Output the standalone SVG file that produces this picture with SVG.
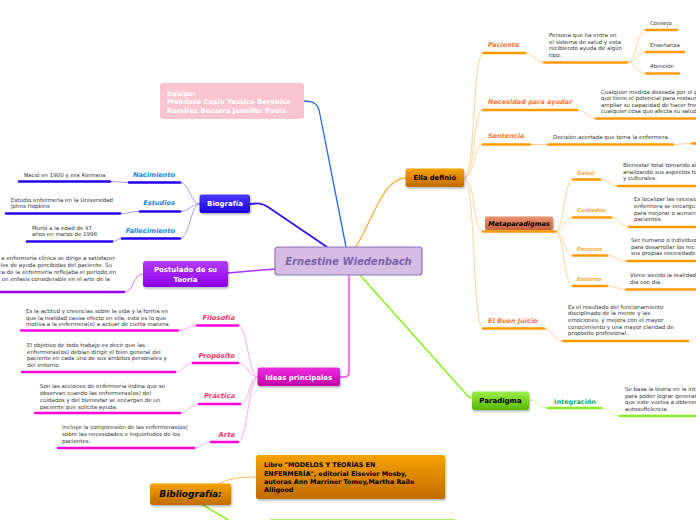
<svg xmlns="http://www.w3.org/2000/svg" width="696" height="520" viewBox="0 0 696 520">
<defs>
<filter id="sh" x="-10%" y="-20%" width="130%" height="160%"><feDropShadow dx="1" dy="1.5" stdDeviation="1" flood-color="#000" flood-opacity="0.3"/></filter>
<linearGradient id="gBio" x1="0" y1="0" x2="0" y2="1"><stop offset="0" stop-color="#4a3cff"/><stop offset="1" stop-color="#1a00dd"/></linearGradient>
<linearGradient id="gPost" x1="0" y1="0" x2="0" y2="1"><stop offset="0" stop-color="#b53cff"/><stop offset="1" stop-color="#8c00e6"/></linearGradient>
<linearGradient id="gIdeas" x1="0" y1="0" x2="0" y2="1"><stop offset="0" stop-color="#ee2ee0"/><stop offset="1" stop-color="#c400aa"/></linearGradient>
<linearGradient id="gOr" x1="0" y1="0" x2="0" y2="1"><stop offset="0" stop-color="#f7a200"/><stop offset="1" stop-color="#c06c00"/></linearGradient>
<linearGradient id="gMeta" x1="0" y1="0" x2="0" y2="1"><stop offset="0" stop-color="#eb9470"/><stop offset="1" stop-color="#c8603a"/></linearGradient>
<linearGradient id="gPar" x1="0" y1="0" x2="0" y2="1"><stop offset="0" stop-color="#9cf04a"/><stop offset="1" stop-color="#55b800"/></linearGradient>
</defs>
<style>
text{font-family:"DejaVu Sans",Verdana,sans-serif}
.t{font-size:5.5px;fill:#333}
.wb{font-weight:bold;fill:#fff}
.kb{font-weight:bold;fill:#000}
.lab{font-weight:bold;font-style:italic}
.c{fill:none;stroke-linecap:round}
.bio{stroke:#9a8cf0;stroke-width:0.9}
.idea{stroke:#ff9cf0;stroke-width:0.9}
.ella{stroke:#ffcd8a;stroke-width:0.9}
.par{stroke:#bdf58c;stroke-width:0.9}
.ub{stroke:#2200ee;stroke-width:2.5}
.ui{stroke:#ff00dd;stroke-width:2.5}
.uo{stroke:#ff9900;stroke-width:2.5}
.ug{stroke:#88ee22;stroke-width:2.5}
</style>
<rect width="696" height="520" fill="#fff"/>

<g id="connectors">
<path class="c" d="M303,101 C314,101 318,104 319.5,112 L346,247" stroke="#2266ff" stroke-width="1.3"/>
<path class="c" d="M250,204 C258,203 262,203 268,207 L327,247" stroke="#3311ee" stroke-width="1.8"/>
<path class="c" d="M228,273 L275,269" stroke="#aa33ff" stroke-width="1.5"/>
<path class="c" d="M349,275 L349,372 Q349,377 344,377 L340,377" stroke="#ff44ee" stroke-width="1.5"/>
<path class="c" d="M356,247 C375,214 384,178 406,178" stroke="#ffaa33" stroke-width="1.3"/>
<path class="c" d="M360,275 L466,394 Q469,398 472,398" stroke="#88ee22" stroke-width="1.5"/>
<path class="c" d="M218,484 C230,478 240,477 256,477" stroke="#ffbb66" stroke-width="1.2"/>
<path class="c" d="M203,505 L228,520" stroke="#88ee22" stroke-width="1.5"/>
<path d="M270,519.5 L455,519.5" stroke="#aaee66" stroke-width="1"/>
<path class="c bio" d="M200,204 C190,204 190,182.5 180,182.5"/>
<path class="c bio" d="M200,204 C190,204 190,211.5 180,211.5"/>
<path class="c bio" d="M200,204 C190,204 190,238.5 180,238.5"/>
<path class="c bio" d="M129,182.5 C120,182.5 120,181.5 110,181.5"/>
<path class="c bio" d="M140,211.5 C130,211.5 130,213.5 120,213.5"/>
<path class="c bio" d="M122,238.5 C117,238.5 117,241.5 112,241.5"/>
<path class="c" d="M124,292 C135,292 132,274 143,274" stroke="#bb66ff" stroke-width="0.9"/>
<path class="c idea" d="M258,377 C248,377 248,325.5 238,325.5"/>
<path class="c idea" d="M258,377 C248,377 248,363 238,363"/>
<path class="c idea" d="M258,377 C248,377 250,404 240,404"/>
<path class="c idea" d="M258,377 C248,377 248,442 238,442"/>
<path class="c idea" d="M197,325.5 C187,325.5 188,330.5 178,330.5"/>
<path class="c idea" d="M193,363 C184,363 184,372 175,372"/>
<path class="c idea" d="M199,404 C190,404 189,413 180,413"/>
<path class="c idea" d="M211,442 C202,442 203,448 194,448"/>
<path class="c ella" d="M464,178 C476,178 472,53 483,53"/>
<path class="c ella" d="M464,178 C476,178 472,110 483,110"/>
<path class="c ella" d="M464,178 C476,178 472,144.5 483,144.5"/>
<path class="c ella" d="M464,178 C476,178 472,231.5 483,231.5"/>
<path class="c ella" d="M464,178 C476,178 472,328.5 483,328.5"/>
<path class="c ella" d="M525,53 C535,53 534,62.5 544,62.5"/>
<path class="c ella" d="M627,62.5 C637,62.5 636,30 646,30"/>
<path class="c ella" d="M627,62.5 C637,62.5 636,52 646,52"/>
<path class="c ella" d="M627,62.5 C637,62.5 636,73.5 646,73.5"/>
<path class="c ella" d="M577,110 C587,110 586,118.5 596,118.5"/>
<path class="c ella" d="M530,144.5 L548,144.5"/>
<path class="c ella" d="M673,144.5 C682,144.5 682,143.5 691,143.5"/>
<path class="c ella" d="M555,231.5 C565,231.5 563,179.5 573,179.5"/>
<path class="c ella" d="M555,231.5 C565,231.5 563,217.5 573,217.5"/>
<path class="c ella" d="M555,231.5 C565,231.5 563,255.5 573,255.5"/>
<path class="c ella" d="M555,231.5 C565,231.5 563,286 573,286"/>
<path class="c ella" d="M600,179.5 C610,179.5 608,186 618,186"/>
<path class="c ella" d="M611,217.5 C620,217.5 620,227 629,227"/>
<path class="c ella" d="M607,255.5 C617,255.5 617,261 627,261"/>
<path class="c ella" d="M607,286 C617,286 616,289.5 626,289.5"/>
<path class="c ella" d="M544,328.5 C554,328.5 553,341 563,341"/>
<path class="c par" d="M529,400 C539,400 538,408 548,408"/>
<path class="c par" d="M601,408 C611,408 610,416 620,416"/>
</g>

<g id="central">
<rect x="275" y="247" width="147" height="28" rx="3" fill="#d6bce3" stroke="#8a72bd" stroke-width="1.2"/>
<text x="348.5" y="264.5" text-anchor="middle" font-size="10" class="lab" fill="#7a62b0">Ernestine Wiedenbach</text>
</g>

<g id="equipo">
<rect x="160" y="83" width="144" height="36" rx="3" fill="#f9c5d1"/>
<text class="wb" font-size="6.8"><tspan x="167" y="95.5">Equipo:</tspan><tspan x="167" y="104.4">Mendoza Cosio Yessica Berenice</tspan><tspan x="167" y="112.5">Ramirez Becerra Jennifer Paola</tspan></text>
</g>

<g id="biografia">
<rect x="199.5" y="194.5" width="50.5" height="18.5" rx="2.5" fill="url(#gBio)" filter="url(#sh)"/>
<text x="225" y="206" text-anchor="middle" font-size="7" class="wb">Biografía</text>
</g>
<g id="nacimiento">
<line class="c ub" x1="129" y1="182.5" x2="180" y2="182.5"/>
<text x="175" y="176.8" text-anchor="end" font-size="6.6" class="lab" fill="#2088e0">Nacimiento</text>
<line class="c ub" x1="19" y1="181.5" x2="110" y2="181.5"/>
<text x="24" y="176.5" class="t">Nació en 1900 y era Alemana</text>
</g>
<g id="estudios">
<line class="c ub" x1="140" y1="211.5" x2="180" y2="211.5"/>
<text x="175" y="205" text-anchor="end" font-size="6.6" class="lab" fill="#2088e0">Estudios</text>
<line class="c ub" x1="6" y1="213.5" x2="120" y2="213.5"/>
<text class="t"><tspan x="11" y="202">Estudio enfermería en la Universidad</tspan><tspan x="11" y="208">Johns Hopkins</tspan></text>
</g>
<g id="fallecimiento">
<line class="c ub" x1="122" y1="238.5" x2="180" y2="238.5"/>
<text x="175" y="233" text-anchor="end" font-size="6.6" class="lab" fill="#2088e0">Fallecimiento</text>
<line class="c ub" x1="27" y1="241.5" x2="112" y2="241.5"/>
<text class="t"><tspan x="32" y="229.7">Murió a la edad de 97</tspan><tspan x="32" y="235.7">años en marzo de 1998</tspan></text>
</g>

<g id="postulado">
<rect x="143" y="261" width="85" height="26" rx="2.5" fill="url(#gPost)" filter="url(#sh)"/>
<text text-anchor="middle" font-size="7" class="wb"><tspan x="185.5" y="272">Postulado de su</tspan><tspan x="185.5" y="282">Teoría</tspan></text>
<line x1="-2" y1="292" x2="124" y2="292" stroke="#9900ee" stroke-width="2.5" stroke-linecap="round"/>
<text class="t" text-anchor="end"><tspan x="115" y="259.5">a enfermería clínica se dirige a satisfacer</tspan><tspan x="112" y="266.8">les de ayuda percibidas del paciente. Su</tspan><tspan x="116" y="274">ca de la enfermería reflejaba el período en</tspan><tspan x="110" y="281">un énfasis considerable en el arte de la</tspan></text>
</g>

<g id="ideas">
<rect x="257.5" y="367.5" width="82.5" height="18.5" rx="2.5" fill="url(#gIdeas)" filter="url(#sh)"/>
<text x="298.7" y="379.5" text-anchor="middle" font-size="7" class="wb">Ideas principales</text>
</g>
<g id="filosofia">
<line class="c ui" x1="197" y1="325.5" x2="238" y2="325.5"/>
<text x="235" y="320" text-anchor="end" font-size="6.8" class="lab" fill="#ff3366">Filosofía</text>
<line class="c ui" x1="21" y1="330.5" x2="178" y2="330.5"/>
<text class="t"><tspan x="26" y="313">Es la actitud y creencias sobre la vida y la forma en</tspan><tspan x="26" y="319.5">que la realidad causa efecto en ella, esto es lo que</tspan><tspan x="26" y="326">motiva a la enfermera(o) a actuar de cierta manera.</tspan></text>
</g>
<g id="proposito">
<line class="c ui" x1="193" y1="363" x2="238" y2="363"/>
<text x="235" y="357.5" text-anchor="end" font-size="6.8" class="lab" fill="#ff3366">Propósito</text>
<line class="c ui" x1="22" y1="372" x2="175" y2="372"/>
<text class="t"><tspan x="27" y="347">El objetivo de todo trabajo es decir que las</tspan><tspan x="27" y="353.7">enfermeras(os) debían dirigir el bien general del</tspan><tspan x="27" y="360.3">paciente en cada uno de sus ámbitos personales y</tspan><tspan x="27" y="367">del entorno.</tspan></text>
</g>
<g id="practica">
<line class="c ui" x1="199" y1="404" x2="240" y2="404"/>
<text x="235" y="398" text-anchor="end" font-size="6.8" class="lab" fill="#ff3366">Práctica</text>
<line class="c ui" x1="35" y1="413" x2="180" y2="413"/>
<text class="t"><tspan x="40" y="388">Son las acciones de enfermería indina que se</tspan><tspan x="40" y="395">observan cuando las enfermeras(os) del</tspan><tspan x="40" y="401.7">cuidados y del bienestar se encargan de un</tspan><tspan x="40" y="408.5">paciente que solicita ayuda.</tspan></text>
</g>
<g id="arte">
<line class="c ui" x1="211" y1="442" x2="238" y2="442"/>
<text x="235" y="436.5" text-anchor="end" font-size="6.8" class="lab" fill="#ff3366">Arte</text>
<line class="c ui" x1="58" y1="448" x2="194" y2="448"/>
<text class="t"><tspan x="62" y="429.3">Incluye la comprensión de las enfermeras(os)</tspan><tspan x="62" y="436">sobre las necesidades e inquietudes de los</tspan><tspan x="62" y="442.7">pacientes.</tspan></text>
</g>

<g id="bibliografia">
<rect x="150" y="483.5" width="81" height="21.5" rx="2.5" fill="url(#gOr)" filter="url(#sh)"/>
<text x="190.5" y="496.8" text-anchor="middle" font-size="9" class="lab" fill="#000">Bibliografía:</text>
</g>
<g id="libro">
<rect x="256" y="455" width="189" height="44" rx="2.5" fill="url(#gOr)" filter="url(#sh)"/>
<text class="kb" font-size="6.4"><tspan x="264" y="467.3">Libro "MODELOS Y TEORÍAS EN</tspan><tspan x="264" y="475.6">ENFERMERÍA", editorial Elsevier Mosby,</tspan><tspan x="264" y="484">autoras Ann Marriner Tomey,Martha Raile</tspan><tspan x="264" y="492.3">Alligood</tspan></text>
</g>

<g id="ella">
<rect x="405.5" y="168.5" width="58.5" height="18.5" rx="2.5" fill="url(#gOr)" filter="url(#sh)"/>
<text x="434.8" y="180" text-anchor="middle" font-size="6.8" class="kb">Ella definió</text>
</g>
<g id="paciente">
<line class="c uo" x1="483" y1="53" x2="525" y2="53"/>
<text x="488" y="46.7" font-size="6.5" class="lab" fill="#ff7733">Paciente</text>
<line class="c uo" x1="544" y1="62.5" x2="627" y2="62.5"/>
<text class="t"><tspan x="549" y="37">Persona que ha entra en</tspan><tspan x="549" y="43.7">el sistema de salud y esta</tspan><tspan x="549" y="50.3">recibiendo ayuda de algún</tspan><tspan x="549" y="57">tipo.</tspan></text>
<line class="c uo" x1="646" y1="30" x2="677" y2="30"/>
<text x="650" y="25" class="t">Consejo</text>
<line class="c uo" x1="646" y1="52" x2="684" y2="52"/>
<text x="650" y="47" class="t">Enseñanza</text>
<line class="c uo" x1="646" y1="73.5" x2="679" y2="73.5"/>
<text x="650" y="68" class="t">Atención</text>
</g>
<g id="necesidad">
<line class="c uo" x1="483" y1="110" x2="577" y2="110"/>
<text x="488" y="104" font-size="6.5" class="lab" fill="#ff7733">Necesidad para ayudar</text>
<line class="c uo" x1="596" y1="118.5" x2="698" y2="118.5"/>
<text class="t"><tspan x="601" y="93.7">Cualquier medida deseada por el p</tspan><tspan x="601" y="100.3">que tiene el potencial para restaur</tspan><tspan x="601" y="107">ampliar su capacidad de hacer fren</tspan><tspan x="601" y="113">cualquier cosa que afecta su salud</tspan></text>
</g>
<g id="sentencia">
<line class="c uo" x1="483" y1="144.5" x2="530" y2="144.5"/>
<text x="488" y="138.4" font-size="6.5" class="lab" fill="#ff7733">Sentencia</text>
<line class="c uo" x1="548" y1="144.5" x2="673" y2="144.5"/>
<text x="553" y="139.3" class="t">Decisión acertada que toma la enfermera</text>
<line class="c uo" x1="692" y1="143.5" x2="698" y2="143.5"/>
</g>
<g id="metaparadigmas">
<rect x="485" y="216.5" width="68" height="13.5" rx="2" fill="url(#gMeta)" filter="url(#sh)"/>
<text x="519" y="225.8" text-anchor="middle" font-size="6.5" class="lab" fill="#000">Metaparadigmas</text>
<line class="c uo" x1="483" y1="231.5" x2="555" y2="231.5"/>
</g>
<g id="salud">
<line class="c uo" x1="573" y1="179.5" x2="600" y2="179.5"/>
<text x="577" y="174.5" font-size="5.5" class="lab" fill="#ffaa33">Salud</text>
<line class="c uo" x1="618" y1="186" x2="698" y2="186"/>
<text class="t"><tspan x="623" y="167">Bienestar total tomando al</tspan><tspan x="623" y="173.7">analizando sus aspectos to</tspan><tspan x="623" y="180.3">y culturales.</tspan></text>
</g>
<g id="cuidados">
<line class="c uo" x1="573" y1="217.5" x2="611" y2="217.5"/>
<text x="577" y="212.3" font-size="5.5" class="lab" fill="#ffaa33">Cuidados</text>
<line class="c uo" x1="629" y1="227" x2="698" y2="227"/>
<text class="t"><tspan x="634" y="201.3">Es localizar las necesid</tspan><tspan x="634" y="208">enfermera se encargu</tspan><tspan x="634" y="214.7">para mejorar o aumen</tspan><tspan x="634" y="221.3">pacientes.</tspan></text>
</g>
<g id="persona">
<line class="c uo" x1="573" y1="255.5" x2="607" y2="255.5"/>
<text x="577" y="250.6" font-size="5.5" class="lab" fill="#ffaa33">Persona</text>
<line class="c uo" x1="627" y1="261" x2="698" y2="261"/>
<text class="t"><tspan x="631" y="242">Ser humano o individuo</tspan><tspan x="631" y="248.7">para desarrollar los rec</tspan><tspan x="631" y="255.3">sus propias necesidade</tspan></text>
</g>
<g id="entorno">
<line class="c uo" x1="573" y1="286" x2="607" y2="286"/>
<text x="577" y="281.3" font-size="5.5" class="lab" fill="#ffaa33">Entorno</text>
<line class="c uo" x1="626" y1="289.5" x2="698" y2="289.5"/>
<text class="t"><tspan x="630" y="277">Viene siendo la realidad</tspan><tspan x="630" y="284.3">día con día.</tspan></text>
</g>
<g id="buenjuicio">
<line class="c uo" x1="483" y1="328.5" x2="544" y2="328.5"/>
<text x="488" y="323" font-size="6.5" class="lab" fill="#ff7733">El Buen Juicio</text>
<line class="c uo" x1="563" y1="341" x2="688" y2="341"/>
<text class="t"><tspan x="568" y="308.7">Es el resultado del funcionamiento</tspan><tspan x="568" y="315.3">disciplinado de la mente y las</tspan><tspan x="568" y="322">emociones, y mejora con el mayor</tspan><tspan x="568" y="328.7">conocimiento y una mayor claridad de</tspan><tspan x="568" y="335.3">propósito profesional .</tspan></text>
</g>

<g id="paradigma">
<rect x="472" y="391.5" width="57" height="18.5" rx="2.5" fill="url(#gPar)" filter="url(#sh)"/>
<text x="500.5" y="403.3" text-anchor="middle" font-size="7" class="kb">Paradigma</text>
</g>
<g id="integracion">
<line class="c ug" x1="548" y1="408" x2="601" y2="408"/>
<text x="554" y="404" font-size="6.5" font-weight="bold" fill="#22aa55">Integración</text>
<line class="c ug" x1="620" y1="416" x2="698" y2="416"/>
<text class="t"><tspan x="625" y="391">Se basa la teoría en la int</tspan><tspan x="625" y="397.7">para poder lograr generar</tspan><tspan x="625" y="404.3">que este vuelva a obtener</tspan><tspan x="625" y="411">autosuficiencia.</tspan></text>
</g>
</svg>
